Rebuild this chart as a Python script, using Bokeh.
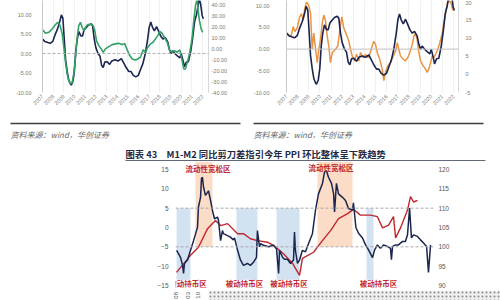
import numpy as np
from math import pi
from bokeh.plotting import figure
from bokeh.models import Range1d, LinearAxis, Span, FixedTicker, PrintfTickFormatter, ColumnDataSource
from bokeh.layouts import column, row
from bokeh.embed import file_html
from bokeh.resources import INLINE
from bokeh.core.properties import value

# ---------------- data: upper panels ----------------
years = list(range(2007, 2023))

navy_t = [2007.00, 2007.21, 2007.51, 2007.72, 2007.96, 2008.19, 2008.41, 2008.62, 2008.77, 2008.91,
          2009.04, 2009.16, 2009.31, 2009.45, 2009.61, 2009.70, 2009.85, 2009.99, 2010.12, 2010.26,
          2010.41, 2010.59, 2010.75, 2010.89, 2011.11, 2011.31, 2011.56, 2011.70, 2011.85, 2012.00,
          2012.21, 2012.39, 2012.54, 2012.69, 2012.84, 2013.05, 2013.29, 2013.50, 2013.80, 2014.10,
          2014.39, 2014.61, 2014.84, 2015.09, 2015.29, 2015.51, 2015.74, 2015.98, 2016.19, 2016.41,
          2016.64, 2016.86, 2017.00, 2017.15, 2017.31, 2017.49, 2017.69, 2017.84, 2018.08, 2018.29,
          2018.50, 2018.74, 2018.89, 2019.04, 2019.19, 2019.40, 2019.64, 2019.88, 2020.00, 2020.18,
          2020.30, 2020.48, 2020.68, 2020.90, 2021.08, 2021.26, 2021.44, 2021.58, 2021.70, 2021.82,
          2021.97, 2022.08]
navy_v = [3.7, 3.1, 2.8, 2.6, 3.1, 4.9, 6.3, 8.2, 9.9, 9.0,
          3.7, -1.5, -4.5, -6.7, -7.8, -8.1, -7.1, -4.5, 0.7, 3.7,
          5.6, 4.5, 4.5, 6.0, 6.7, 7.3, 7.6, 7.1, 3.7, 1.5,
          0.0, -0.7, -3.0, -3.6, -2.2, -2.1, -2.8, -1.9, -1.6, -1.9,
          -1.3, -2.4, -3.6, -4.6, -4.6, -5.6, -6.0, -5.6, -4.1, -2.6,
          0.0, 3.7, 6.7, 8.1, 6.7, 5.8, 6.9, 6.0, 4.5, 3.7,
          4.1, 3.0, 1.1, 0.0, 0.7, 0.0, -0.6, -1.1, 0.0, -1.9,
          -3.4, -2.2, -2.1, 0.7, 4.1, 8.2, 10.0, 12.3, 14.0, 12.7,
          9.7, 8.9]

green_t = [2007.03, 2007.28, 2007.59, 2007.91, 2008.22, 2008.43, 2008.62, 2008.85, 2009.00, 2009.16,
           2009.31, 2009.46, 2009.62, 2009.78, 2009.93, 2010.09, 2010.25, 2010.40, 2010.56, 2010.72,
           2010.87, 2011.03, 2011.25, 2011.50, 2011.75, 2011.90, 2012.06, 2012.28, 2012.50, 2012.69,
           2012.90, 2013.21, 2013.53, 2013.84, 2014.15, 2014.47, 2014.69, 2014.94, 2015.18, 2015.41,
           2015.72, 2015.93, 2016.18, 2016.44, 2016.65, 2016.87, 2017.12, 2017.37, 2017.59, 2017.81,
           2017.99, 2018.22, 2018.43, 2018.69, 2018.93, 2019.16, 2019.37, 2019.62, 2019.87, 2020.09,
           2020.24, 2020.40, 2020.62, 2020.81, 2021.03, 2021.18, 2021.34, 2021.50, 2021.59, 2021.71,
           2021.87, 2022.02]
green_v = [17.4, 14.3, 15.2, 18.3, 22.3, 24.4, 22.3, 13.8, 1.5, -12.3,
           -22.9, -29.1, -32.1, -30.6, -22.9, -7.7, 10.6, 21.4, 24.4, 19.8,
           16.8, 19.8, 22.3, 22.3, 21.4, 16.8, 7.6, 3.0, 0.0, -3.1,
           0.0, 2.1, 3.9, 4.6, 5.1, 3.9, 5.1, -0.9, -6.1, -9.2,
           -10.1, -9.2, -7.7, -0.9, -3.1, 1.5, 4.6, 6.1, 9.2, 12.2,
           16.1, 14.3, 10.6, 6.1, -1.6, -3.1, -1.6, -3.1, -0.9, -10.7,
           -18.3, -18.3, -10.7, -3.1, 10.6, 26.0, 39.7, 46.0, 35.1, 26.0,
           18.3, 15.2]

orange_t = [2007.00, 2007.21, 2007.42, 2007.60, 2007.75, 2007.96, 2008.19, 2008.35, 2008.50, 2008.64,
            2008.80, 2009.00, 2009.16, 2009.31, 2009.45, 2009.61, 2009.76, 2009.90, 2010.05, 2010.21,
            2010.35, 2010.50, 2010.66, 2010.80, 2010.95, 2011.11, 2011.25, 2011.40, 2011.61, 2011.79,
            2011.97, 2012.15, 2012.39, 2012.60, 2012.75, 2012.90, 2013.11, 2013.29, 2013.50, 2013.65,
            2013.89, 2014.10, 2014.30, 2014.48, 2014.70, 2014.84, 2015.00, 2015.15, 2015.38, 2015.60,
            2015.74, 2015.89, 2016.10, 2016.34, 2016.59, 2016.79, 2016.95, 2017.09, 2017.24, 2017.49,
            2017.69, 2017.90, 2018.08, 2018.29, 2018.44, 2018.59, 2018.74, 2018.89, 2019.04, 2019.28,
            2019.49, 2019.64, 2019.79, 2019.94, 2020.09, 2020.23, 2020.39, 2020.59, 2020.77, 2020.99,
            2021.13, 2021.29, 2021.44, 2021.65, 2021.80, 2021.94]
orange_v = [11.5, 11.0, 10.6, 13.3, 11.9, 12.9, 16.0, 16.9, 15.1, 18.3,
            20.1, 19.2, 16.9, 7.0, 11.5, 7.0, 3.3, 7.0, 9.7, 14.2,
            16.5, 15.1, 10.6, 7.9, 3.3, 6.1, 6.5, 7.0, 7.9, 12.4,
            16.0, 12.9, 11.0, 9.2, 7.0, 5.1, 3.8, 5.6, 3.8, 6.1,
            4.7, 5.6, 4.7, 5.6, 7.9, 9.2, 8.3, 6.1, 4.2, 1.5,
            -1.7, 0.6, 2.4, 3.3, 5.1, 6.5, 8.8, 7.0, 5.1, 4.2,
            3.8, 4.7, 6.1, 8.3, 10.6, 11.5, 9.7, 6.1, 3.8, 2.4,
            1.5, 0.6, 1.5, 3.3, 5.1, 4.7, 5.6, 7.0, 8.8, 11.5,
            14.2, 16.9, 19.6, 20.5, 19.6, 17.8]

# ---------------- data: lower chart ----------------
m_t = [2008.59, 2008.64, 2008.80, 2008.91, 2008.96, 2009.01, 2009.17, 2009.33, 2009.49, 2009.70,
       2009.75, 2009.86, 2009.91, 2009.96, 2010.02, 2010.12, 2010.23, 2010.28, 2010.39, 2010.49,
       2010.60, 2010.76, 2010.81, 2010.92, 2011.02, 2011.07, 2011.29, 2011.44, 2011.60, 2011.66,
       2011.82, 2011.97, 2012.13, 2012.34, 2012.50, 2012.66, 2012.82, 2012.87, 2012.98, 2013.03,
       2013.19, 2013.46, 2013.72, 2013.88, 2013.99, 2014.04, 2014.20, 2014.30, 2014.46, 2014.62,
       2014.78, 2014.83, 2014.88, 2014.99, 2015.10, 2015.25, 2015.41, 2015.57, 2015.78, 2015.94,
       2016.10, 2016.31, 2016.42, 2016.52, 2016.63, 2016.79, 2016.90, 2016.95, 2017.05, 2017.16,
       2017.37, 2017.53, 2017.69, 2017.90, 2017.95, 2018.08, 2018.22, 2018.43, 2018.59, 2018.75,
       2018.96, 2019.07, 2019.22, 2019.38, 2019.54, 2019.75, 2019.91, 2019.96, 2020.02, 2020.18,
       2020.33, 2020.55, 2020.70, 2020.81, 2020.92, 2021.02, 2021.13, 2021.34, 2021.50, 2021.66,
       2021.82, 2021.92, 2022.03]
m_v = [-5.9, -6.3, -7.7, -9.8, -11.9, -9.3, -8.4, -5.9, -3.4, 0.1,
       5.3, 7.8, 12.7, 13.0, 10.4, 8.3, 9.1, 9.5, 7.0, 4.4,
       2.2, 2.7, 1.8, -3.4, -0.8, -1.6, -2.1, -2.5, -3.2, -2.7,
       -5.9, -8.4, -9.8, -9.3, -9.8, -9.0, -7.7, -0.8, -5.0, -4.2,
       -4.6, -5.0, -4.6, -5.5, -11.9, -5.9, -7.7, -8.2, -8.2, -9.3,
       -8.4, -1.2, -5.9, -9.3, -8.4, -5.9, -6.3, -4.2, -1.6, 4.4,
       8.7, 11.4, 14.3, 14.7, 13.0, 11.4, 8.7, 4.0, 11.4, 8.7,
       7.8, 7.0, 4.9, 4.5, 6.4, 0.0, -1.5, -2.7, -4.5, -5.8,
       -7.8, -5.8, -4.5, -5.4, -4.5, -4.9, -5.4, -8.3, -4.9, -4.5,
       -4.5, -3.6, -3.6, -1.9, 5.0, -2.7, -1.9, -2.3, -3.2, -4.0,
       -4.9, -11.6, -4.5]

ppi_t = [2008.59, 2009.33, 2009.75, 2010.23, 2010.65, 2010.92, 2011.29, 2011.82, 2012.13, 2012.50,
         2012.87, 2013.40, 2013.72, 2014.25, 2014.73, 2015.10, 2015.25, 2015.84, 2016.31, 2016.74,
         2017.16, 2017.64, 2017.95, 2018.32, 2018.85, 2019.22, 2019.49, 2019.81, 2020.07, 2020.18,
         2020.44, 2020.81, 2020.97, 2021.13, 2021.34]
ppi_v = [93.4, 97.8, 99.9, 104.7, 106.8, 105.5, 106.0, 103.4, 103.4, 102.1,
         101.6, 101.2, 100.4, 98.2, 95.7, 92.6, 97.0, 98.6, 101.6, 104.2,
         107.3, 108.6, 109.7, 108.2, 108.2, 107.8, 104.9, 105.6, 107.8, 102.3,
         104.9, 109.5, 113.0, 111.6, 112.0]

blue_start = [2008.59, 2011.76, 2013.88, 2018.64]
blue_end = [2009.33, 2012.87, 2015.10, 2019.01]
warm_start = [2009.59, 2016.05]
warm_end = [2010.49, 2017.90]
loose_x = [2010.26, 2016.76]
hold_x = [2009.20, 2012.18, 2014.54, 2019.28]
loose_text = "流动性宽松区"
hold_text = "被动持币区"
low_left_ticks = [-15, -10, -5, 0, 5, 10, 15]
low_right_ticks = [90, 95, 100, 105, 110, 115, 120]
low_date_ticks = [2008.58, 2009.17, 2009.75]
low_date_labels = ["08", "03", "10"]

source_text = "资料来源：wind，华创证券"
title_text = "图表 43\u2002\u2002M1-M2 同比剪刀差指引今年 PPI 环比整体呈下跌趋势"

# ---------------- style ----------------
NAVY = "#1b2550"
GREEN = "#33a065"
ORANGE = "#ea9443"
RED = "#c0262d"
TICK_GRAY = "#7a7a7a"
FONT = "Liberation Sans"
CJK = "Noto Sans CJK SC"


def style_axis(ax, size, standoff, line=None):
    ax.axis_line_color = line
    ax.major_tick_line_color = None
    ax.minor_tick_line_color = None
    ax.major_tick_out = 0
    ax.major_tick_in = 0
    ax.major_label_text_font_size = size
    ax.major_label_text_color = TICK_GRAY
    ax.major_label_text_font = FONT
    ax.major_label_standoff = standoff


def upper_panel(x_end, y_lo, y_hi, r_lo, r_hi, r_ticks, r_fmt, b_left, b_right, b_bottom,
                left_standoff, right_standoff):
    p = figure(width=250, height=118, x_range=Range1d(2007, x_end), y_range=Range1d(y_lo, y_hi),
               output_backend="svg", toolbar_location=None,
               min_border_left=b_left, min_border_right=b_right, min_border_top=0,
               min_border_bottom=b_bottom, outline_line_color=None, background_fill_color="white")
    p.extra_y_ranges = {"r": Range1d(r_lo, r_hi)}
    p.yaxis.ticker = FixedTicker(ticks=[-10, -5, 0, 5, 10])
    p.yaxis.formatter = PrintfTickFormatter(format="%.2f")
    style_axis(p.yaxis[0], "5.5px", left_standoff, "#c8c8c8")
    ra = LinearAxis(y_range_name="r", ticker=FixedTicker(ticks=r_ticks),
                    formatter=PrintfTickFormatter(format=r_fmt))
    style_axis(ra, "5.5px", right_standoff, "#d8d8d8")
    p.add_layout(ra, "right")
    p.xaxis.ticker = FixedTicker(ticks=years)
    style_axis(p.xaxis[0], "5.5px", 3, None)
    p.xaxis.major_label_orientation = pi / 4
    p.xgrid.ticker = FixedTicker(ticks=years)
    p.xgrid.grid_line_color = "#f0f0f0"
    p.ygrid.grid_line_color = None
    return p


# top-left
p1 = upper_panel(2022.56, -10, 13.59, -40, 44.4, [-40, -30, -20, -10, 0, 10, 20, 30, 40], "%.2f",
                 42, 42, 26, 11, 3)
p1.add_layout(Span(location=0, dimension="width", line_color="#b0b0b0", line_dash="3 2", line_width=1))
p1.line(navy_t, navy_v, line_color=NAVY, line_width=1.6)
p1.line(green_t, green_v, y_range_name="r", line_color=GREEN, line_width=1.6)

# top-right
p2 = upper_panel(2022.45, -10, 11.21, -5, 20.54, [-5, 0, 5, 10, 15, 20], "%d",
                 36, 42, 24, 17, 7)
p2.add_layout(Span(location=0, dimension="width", line_color="#c0c0c0", line_width=1))
p2.line(orange_t, orange_v, y_range_name="r", line_color=ORANGE, line_width=1.5)
p2.line(navy_t, navy_v, line_color=NAVY, line_width=1.6)

# ---------------- text band ----------------
pt = figure(width=500, height=43, x_range=Range1d(0, 500), y_range=Range1d(43, 0),
            output_backend="svg", toolbar_location=None, min_border=0,
            x_axis_location=None, y_axis_location=None, outline_line_color=None)
pt.grid.visible = False
pt.segment(x0=[10, 253], y0=[5, 5], x1=[240, 483], y1=[5, 5], line_color="#3c3c3c", line_width=1.5)
pt.text(x=[10, 253], y=[15.5, 15.5], text=[source_text, source_text], text_font=value(CJK),
        text_font_size="8px", text_font_style="italic", text_color="#666666",
        text_align="left", text_baseline="middle")
pt.text(x=[125], y=[35], text=[title_text], text_font=value(CJK), text_font_size="9.3px",
        text_font_style="bold", text_color="#1f2a44", text_align="left", text_baseline="middle")
pt.segment(x0=[125], y0=[42.3], x1=[485], y1=[42.3], line_color="#1f2a44", line_width=1)

# ---------------- lower chart ----------------
LOW_L, LOW_R = 175, 67
x_lo, x_hi = 2008.535, 2022.186
p3 = figure(width=500, height=128, x_range=Range1d(x_lo, x_hi), y_range=Range1d(-15.52, 17.07),
            output_backend="svg", toolbar_location=None,
            min_border_left=LOW_L, min_border_right=LOW_R, min_border_top=0, min_border_bottom=2,
            x_axis_location=None, outline_line_color=None)
p3.grid.visible = False
p3.extra_y_ranges = {"r": Range1d(89.48, 122.07)}
p3.yaxis.ticker = FixedTicker(ticks=low_left_ticks)
style_axis(p3.yaxis[0], "6.5px", 7, None)
p3.yaxis.major_label_text_color = "#555555"
ra3 = LinearAxis(y_range_name="r", ticker=FixedTicker(ticks=low_right_ticks))
style_axis(ra3, "6.5px", 5, None)
ra3.major_label_text_color = "#555555"
p3.add_layout(ra3, "right")

p3.quad(left=blue_start, right=blue_end, bottom=-13.5, top=5, fill_color="#d3e2f1", line_color=None)
p3.quad(left=warm_start, right=warm_end, bottom=-5, top=17.07, fill_color="#fbdcc6", line_color=None)
for lv in (5, -5):
    p3.add_layout(Span(location=lv, dimension="width", line_color="#a8a8a8", line_dash="3 2", line_width=1))
p3.line(ppi_t, ppi_v, y_range_name="r", line_color=RED, line_width=1.4)
p3.line(m_t, m_v, line_color=NAVY, line_width=1.5)
p3.text(x=loose_x, y=[15.3, 15.5], text=[loose_text] * len(loose_x), text_font=value(CJK),
        text_font_size="7.5px", text_font_style="bold", text_color=RED,
        text_align="center", text_baseline="middle")
p3.text(x=hold_x, y=[-14.5] * len(hold_x), text=[hold_text] * len(hold_x), text_font=value(CJK),
        text_font_size="7.5px", text_font_style="bold", text_color=RED,
        text_align="center", text_baseline="middle")

# ---------------- bottom strip (date tick labels + dotted overlay) ----------------
px_per_year = (500 - LOW_L - LOW_R) / (x_hi - x_lo)
ps = figure(width=500, height=11, x_range=Range1d(0, 500), y_range=Range1d(11, 0),
            output_backend="svg", toolbar_location=None, min_border=0,
            x_axis_location=None, y_axis_location=None, outline_line_color=None)
ps.grid.visible = False
ps.extra_x_ranges = {"date": Range1d(x_lo - LOW_L / px_per_year, x_hi + LOW_R / px_per_year)}
ps.text(x=low_date_ticks, y=[1.5] * len(low_date_ticks), text=low_date_labels, x_range_name="date",
        angle=pi / 2, text_font=value(FONT), text_font_size="6px", text_color="#555555",
        text_align="right", text_baseline="middle")
ps.quad(left=[208], right=[500], bottom=[11], top=[0], fill_color="#eeeeee", line_color=None,
        hatch_pattern="dot", hatch_color="#8c8c8c", hatch_scale=4, hatch_weight=1.2)

layout = column(row(p1, p2, spacing=0), row(pt), row(p3), row(ps), spacing=0)
open("out.html", "w").write(file_html(layout, INLINE))
